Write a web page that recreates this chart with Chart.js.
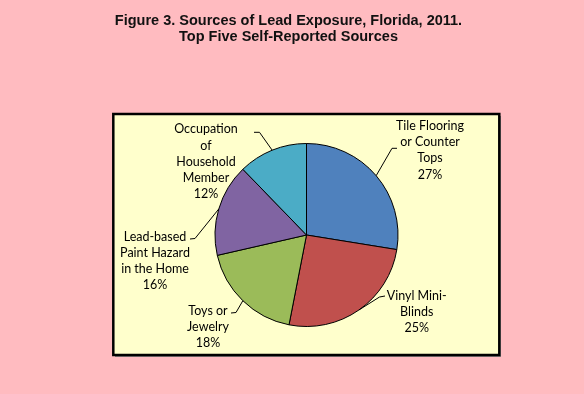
<!DOCTYPE html>
<html>
<head>
<meta charset="utf-8">
<script src="https://cdn.jsdelivr.net/npm/chart.js@4"></script>
<style>
  html, body { margin: 0; padding: 0; background: #FFBBC0; }
  #wrap { width: 584px; height: 394px; position: relative; }
</style>
</head>
<body>
<div id="wrap"><canvas id="chartFuentes"></canvas></div>
<script>
const TITLE_LINES = ['Figure 3. Sources of Lead Exposure, Florida, 2011.', 'Top Five Self-Reported Sources'];
const CATEGORIES = [
  ['Tile Flooring', 'or Counter', 'Tops'],
  ['Vinyl Mini-', 'Blinds'],
  ['Toys or', 'Jewelry'],
  ['Lead-based', 'Paint Hazard', 'in the Home'],
  ['Occupation', 'of', 'Household', 'Member'],
];
const VALUES = [27, 25, 18, 16, 12];
const COLORS = ['#4F81BD', '#C0504D', '#9BBB59', '#8064A2', '#4BACC6'];

// label placement relative to the pie centre: text centre, leader start, leader elbow
const LABEL_POS = [
  { tx: 123.5, ty: -109,   sx: 90.5,   sy: -86.7, ex: 85.5,   ey: -86.7 },
  { tx: 110.2, ty: 61,     sx: 78.5,   sy: 61,    ex: 73,     ey: 62 },
  { tx: -98.5, ty: 75.7,   sx: -75.5,  sy: 78,    ex: -70.5,  ey: 77.5 },
  { tx: -151.5, ty: 1.7,   sx: -116.5, sy: 4,     ex: -111.5, ey: 3.5 },
  { tx: -100.5, ty: -105.7, sx: -52.5, sy: -102.7, ex: -47,   ey: -102.7 },
];
const LINE_H = 16.2;
const LABEL_FONT = '12.5px Lato, "Open Sans", sans-serif';

const fondo = {
  id: 'fondo',
  beforeDraw(chart) {
    const { ctx, width, height } = chart;
    ctx.save();
    ctx.fillStyle = '#FFBBC0';
    ctx.fillRect(0, 0, width, height);
    // plot box
    ctx.fillStyle = '#8a7f80';
    ctx.fillRect(115, 116, 386, 241);
    ctx.fillStyle = '#FFFFCC';
    ctx.fillRect(113, 114, 386, 241);
    ctx.strokeStyle = '#000';
    ctx.lineWidth = 2.5;
    ctx.strokeRect(113.3, 114, 386, 241);
    // title
    ctx.fillStyle = '#111';
    ctx.font = 'bold 14.5px "Liberation Sans", Arial, sans-serif';
    ctx.textAlign = 'center';
    ctx.textBaseline = 'middle';
    TITLE_LINES.forEach((t, i) => ctx.fillText(t, 288.5, 20.7 + i * 16.6));
    ctx.restore();
  }
};

const etiquetas = {
  id: 'etiquetas',
  afterDatasetsDraw(chart) {
    const { ctx } = chart;
    const arcs = chart.getDatasetMeta(0).data;
    ctx.save();
    arcs.forEach((arc, i) => {
      const { x, y, startAngle, endAngle, outerRadius } = arc.getProps(['x', 'y', 'startAngle', 'endAngle', 'outerRadius'], true);
      const mid = (startAngle + endAngle) / 2;
      const p = LABEL_POS[i];
      ctx.strokeStyle = '#000';
      ctx.lineWidth = 1;
      ctx.beginPath();
      ctx.moveTo(x + p.sx, y + p.sy);
      ctx.lineTo(x + p.ex, y + p.ey);
      ctx.lineTo(x + Math.cos(mid) * outerRadius, y + Math.sin(mid) * outerRadius);
      ctx.stroke();

      const lines = [...CATEGORIES[i], VALUES[i] + '%'];
      ctx.fillStyle = '#000';
      ctx.font = LABEL_FONT;
      ctx.textAlign = 'center';
      ctx.textBaseline = 'middle';
      lines.forEach((t, k) => ctx.fillText(t, x + p.tx, y + p.ty + k * LINE_H));
    });
    ctx.restore();
  }
};

new Chart(document.getElementById('chartFuentes'), {
  type: 'pie',
  data: {
    labels: CATEGORIES.map(c => c.join(' ')),
    datasets: [{
      data: VALUES,
      backgroundColor: COLORS,
      borderColor: '#000',
      borderWidth: 1,
    }]
  },
  options: {
    responsive: true,
    maintainAspectRatio: false,
    animation: false,
    layout: { padding: { left: 214.5, right: 185.5, top: 143, bottom: 67 } },
    plugins: { legend: { display: false }, tooltip: { enabled: false }, title: { display: false } },
  },
  plugins: [fondo, etiquetas]
});
</script>
</body>
</html>
